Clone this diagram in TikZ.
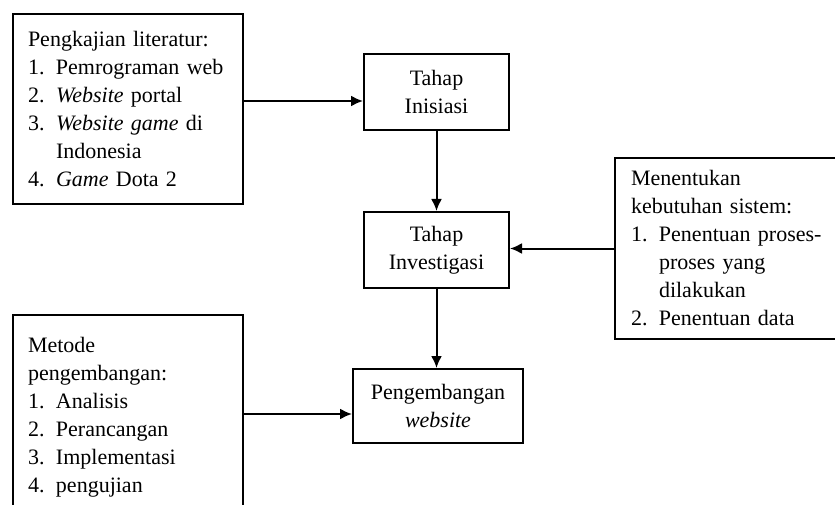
\documentclass[tikz,border=0pt]{standalone}
\usepackage{fontspec}
\setmainfont{Liberation Serif}
\usetikzlibrary{arrows.meta}
\newcommand{\listno}[1]{\makebox[28pt][l]{#1}}
\newcommand{\listcont}{\hspace*{28pt}}
\tikzset{
  box/.style={draw, line width=2pt, font=\fontsize{22}{28}\selectfont},
  listbox/.style={box, anchor=north west, text width=200pt, inner xsep=15pt, align=left},
  stagebox/.style={box, inner sep=0pt, align=center},
  arr/.style={-{Latex[length=12pt,width=11pt]}, line width=2pt}
}
\begin{document}
\begin{tikzpicture}[x=1pt,y=-1pt]
  \useasboundingbox (0,0) rectangle (835,505);
  \clip (0,0) rectangle (835,505);
  % boxes with lists
  \node[listbox, minimum height=190pt] (lit) at (12,13)
    {Pengkajian literatur:\\
     \listno{1.}Pemrograman web\\
     \listno{2.}\textit{Website} portal\\
     \listno{3.}\textit{Website game} di\\
     \listcont Indonesia\\
     \listno{4.}\textit{Game} Dota 2};
  \node[listbox, minimum height=204pt] (met) at (12,314)
    {Metode\\
     pengembangan:\\
     \listno{1.}Analisis\\
     \listno{2.}Perancangan\\
     \listno{3.}Implementasi\\
     \listno{4.}pengujian};
  \node[listbox, minimum height=181pt, inner xsep=16pt] (req) at (614,157)
    {Menentukan\\
     kebutuhan sistem:\\
     \listno{1.}Penentuan proses-\\
     \listcont proses yang\\
     \listcont dilakukan\\
     \listno{2.}Penentuan data};
  % stages
  \node[stagebox, minimum width=145pt, minimum height=76pt] (ini) at (436.5,92) {Tahap\\Inisiasi};
  \node[stagebox, minimum width=145pt, minimum height=76pt] (inv) at (436.5,250) {Tahap\\Investigasi};
  \node[stagebox, minimum width=170pt, minimum height=74pt] (dev) at (438,406) {Pengembangan\\\textit{website}};
  % arrows
  \begin{scope}[arr]
    \draw ([yshift=8pt]lit.east) to ([yshift=8pt]lit.east -| ini.west);
    \draw (ini.south) to (ini.south |- inv.north);
    \draw (req.west) to (req.west -| inv.east);
    \draw (inv.south) to (inv.south |- dev.north);
    \draw ([yshift=3pt]met.east) to ([yshift=3pt]met.east -| dev.west);
  \end{scope}
\end{tikzpicture}
\end{document}
